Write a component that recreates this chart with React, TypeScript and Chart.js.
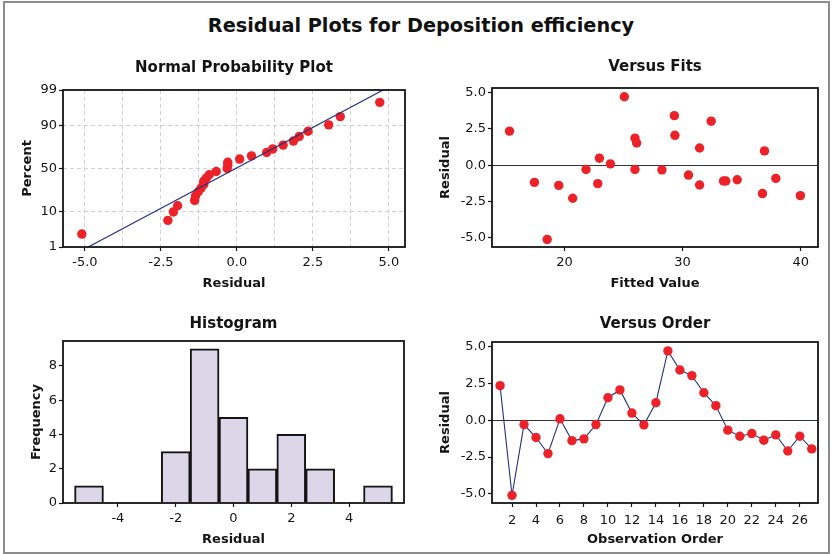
import React, { useEffect, useRef } from "react";
import { Chart, registerables } from "chart.js";

Chart.register(...registerables);
Chart.defaults.font.family = "'DejaVu Sans', Verdana, sans-serif";
Chart.defaults.color = "#111";

// ---------- data ----------
const observationOrder = [1, 2, 3, 4, 5, 6, 7, 8, 9, 10, 11, 12, 13, 14, 15, 16, 17, 18, 19, 20, 21, 22, 23, 24, 25, 26, 27];
const residuals = [2.34, -5.1, -0.3, -1.18, -2.27, 0.09, -1.39, -1.27, -0.3, 1.52, 2.05, 0.48, -0.32, 1.18, 4.7, 3.4, 3.02, 1.86, 0.98, -0.68, -1.09, -0.91, -1.36, -1.0, -2.09, -1.09, -1.95];
const fittedValues = [15.35, 18.54, 21.83, 17.46, 20.7, 23.89, 19.52, 22.82, 25.97, 26.11, 29.35, 22.96, 28.25, 31.44, 25.07, 29.3, 32.42, 25.97, 36.93, 30.5, 33.46, 37.89, 31.44, 34.62, 39.97, 33.66, 36.76];
// percent (plotting position) of each sorted residual in the normal probability plot
const normalPercent = [2.6, 6.2, 9.9, 13.5, 17.2, 20.8, 24.5, 28.1, 31.8, 35.4, 39.1, 42.7, 46.4, 50.0, 53.7, 57.3, 61.0, 64.6, 68.3, 71.9, 75.6, 79.2, 82.9, 86.5, 90.2, 93.8, 97.5];
const fitLineResidual = [-4.89, 4.81];
const fitLinePercent = [1, 99];
const histBinCenters = [-5, -4, -3, -2, -1, 0, 1, 2, 3, 4, 5];
const histCounts = [1, 0, 0, 3, 9, 5, 2, 4, 2, 0, 1];

// tick values
const probTicks = [1, 10, 50, 90, 99];
const normalXTicks = [-5, -3.75, -2.5, -1.25, 0, 1.25, 2.5, 3.75, 5];
const residualTicks = [-5, -2.5, 0, 2.5, 5];
const fitTicks = [20, 30, 40];
const orderTicks = [2, 4, 6, 8, 10, 12, 14, 16, 18, 20, 22, 24, 26];
const histXTicks = [-4, -2, 0, 2, 4];
const histYTicks = [0, 2, 4, 6, 8];

// ---------- helpers ----------
function probit(p: number): number {
  const a = [-3.969683028665376e1, 2.209460984245205e2, -2.759285104469687e2, 1.38357751867269e2, -3.066479806614716e1, 2.506628277459239];
  const b = [-5.447609879822406e1, 1.615858368580409e2, -1.556989798598866e2, 6.680131188771972e1, -1.328068155288572e1];
  const c = [-7.784894002430293e-3, -3.223964580411365e-1, -2.400758277161838, -2.549732539343734, 4.374664141464968, 2.938163982698783];
  const d = [7.784695709041462e-3, 3.224671290700398e-1, 2.445134137142996, 3.754408661907416];
  const pl = 0.02425;
  if (p < pl) {
    const q = Math.sqrt(-2 * Math.log(p));
    return (((((c[0] * q + c[1]) * q + c[2]) * q + c[3]) * q + c[4]) * q + c[5]) / ((((d[0] * q + d[1]) * q + d[2]) * q + d[3]) * q + 1);
  }
  if (p <= 1 - pl) {
    const q = p - 0.5;
    const r = q * q;
    return ((((((a[0] * r + a[1]) * r + a[2]) * r + a[3]) * r + a[4]) * r + a[5]) * q) / (((((b[0] * r + b[1]) * r + b[2]) * r + b[3]) * r + b[4]) * r + 1);
  }
  const q = Math.sqrt(-2 * Math.log(1 - p));
  return -(((((c[0] * q + c[1]) * q + c[2]) * q + c[3]) * q + c[4]) * q + c[5]) / ((((d[0] * q + d[1]) * q + d[2]) * q + d[3]) * q + 1);
}

const RED = "#ec2228";
const NAVY = "#27317f";
const INK = "#141414";
const POINT_R = 4.7;

const framePlugin = {
  id: "frame",
  afterDatasetsDraw(chart: any) {
    const { ctx, chartArea: a } = chart;
    ctx.save();
    ctx.strokeStyle = INK;
    ctx.lineWidth = 1.8;
    ctx.strokeRect(a.left, a.top, a.right - a.left, a.bottom - a.top);
    ctx.restore();
  },
};

interface AxisSpec {
  min: number;
  max: number;
  ticks: number[];
  label: (v: number) => string;
  title: string;
  titlePad: any;
  size: number;
  tickPad: number;
  gridColor?: (v: number) => string;
  dash?: number[];
  tickColor?: (v: number) => string;
}

function makeScale(s: AxisSpec, horizontal: boolean) {
  return {
    type: "linear",
    min: s.min,
    max: s.max,
    offset: false,
    afterBuildTicks: (scale: any) => {
      scale.ticks = s.ticks.map((v) => ({ value: v }));
    },
    afterFit: (scale: any) => {
      if (horizontal) scale.height = s.size;
      else scale.width = s.size;
    },
    ticks: {
      autoSkip: false,
      maxRotation: 0,
      minRotation: 0,
      padding: s.tickPad,
      color: INK,
      font: { size: 13 },
      callback: (v: any) => s.label(Number(v)),
    },
    grid: {
      display: true,
      drawOnChartArea: !!s.gridColor,
      drawTicks: true,
      tickLength: 4,
      tickWidth: 1.2,
      lineWidth: 1,
      offset: false,
      color: (ctx: any) => (s.gridColor ? s.gridColor(ctx.tick ? ctx.tick.value : NaN) : "rgba(0,0,0,0)"),
      tickColor: (ctx: any) => (s.tickColor ? s.tickColor(ctx.tick ? ctx.tick.value : NaN) : INK),
    },
    border: { display: false, dash: s.dash || [] },
    title: {
      display: true,
      text: s.title,
      color: INK,
      font: { size: 13, weight: "bold" },
      padding: s.titlePad,
    },
  };
}

function baseOptions(title: string, titlePad: any, rightPad: number, x: any, y: any) {
  return {
    responsive: false,
    animation: false,
    devicePixelRatio: 1,
    layout: { padding: { left: 0, right: rightPad, top: 0, bottom: 0 } },
    plugins: {
      legend: { display: false },
      tooltip: { enabled: false },
      title: {
        display: true,
        text: title,
        fullSize: false,
        color: INK,
        font: { size: 15, weight: "bold" },
        padding: titlePad,
      },
    },
    scales: { x, y },
  };
}

const isMultiple = (v: number, step: number) => Math.abs(v / step - Math.round(v / step)) < 1e-9;
const fmt1 = (v: number) => v.toFixed(1);

// ---------- chart configs ----------
function normalConfig() {
  const sorted = [...residuals].sort((p, q) => p - q);
  const pts = sorted.map((r, i) => ({ x: r, y: probit(normalPercent[i] / 100) }));
  const line = fitLineResidual.map((r, i) => ({ x: r, y: probit(fitLinePercent[i] / 100) }));
  const x = makeScale(
    {
      min: -5.72,
      max: 5.53,
      ticks: normalXTicks,
      label: (v) => (isMultiple(v, 2.5) ? fmt1(v) : ""),
      title: "Residual",
      titlePad: { top: 0, bottom: 9 },
      size: 53,
      tickPad: 4,
      gridColor: () => "#d0d0da",
      dash: [4, 3],
      tickColor: (v) => (isMultiple(v, 2.5) ? INK : "rgba(0,0,0,0)"),
    },
    true
  );
  const y = makeScale(
    {
      min: probit(0.01),
      max: probit(0.99),
      ticks: probTicks.map((p) => probit(p / 100)),
      label: (v) => {
        const p = probTicks.find((t) => Math.abs(probit(t / 100) - v) < 1e-6);
        return p === undefined ? "" : String(p);
      },
      title: "Percent",
      titlePad: { top: 20, bottom: 0 },
      size: 63,
      tickPad: 2,
      gridColor: () => "#d0d0da",
      dash: [4, 3],
    },
    false
  );
  return {
    type: "scatter",
    data: {
      datasets: [
        { type: "line", data: line, borderColor: NAVY, borderWidth: 1.2, pointRadius: 0, fill: false },
        { data: pts, backgroundColor: RED, borderWidth: 0, pointRadius: POINT_R },
      ],
    },
    options: baseOptions("Normal Probability Plot", { top: 9, bottom: 13 }, 11, x, y),
    plugins: [framePlugin],
  };
}

function residualY(size: number, titleTop: number) {
  return makeScale(
    {
      min: -5.62,
      max: 5.3,
      ticks: residualTicks,
      label: fmt1,
      title: "Residual",
      titlePad: { top: titleTop, bottom: 0 },
      size,
      tickPad: 2,
      gridColor: (v) => (v === 0 ? "#333333" : "rgba(0,0,0,0)"),
    },
    false
  );
}

function fitsConfig() {
  const x = makeScale(
    {
      min: 13.87,
      max: 41.46,
      ticks: fitTicks,
      label: (v) => String(v),
      title: "Fitted Value",
      titlePad: { top: 0, bottom: 9 },
      size: 53,
      tickPad: 4,
    },
    true
  );
  const pts = fittedValues.map((f, i) => ({ x: f, y: residuals[i] }));
  return {
    type: "scatter",
    data: { datasets: [{ data: pts, backgroundColor: RED, borderWidth: 0, pointRadius: POINT_R }] },
    options: baseOptions("Versus Fits", { top: 8, bottom: 12 }, 14, x, residualY(76, 22)),
    plugins: [framePlugin],
  };
}

function histConfig() {
  const x = makeScale(
    {
      min: -5.9,
      max: 5.9,
      ticks: histXTicks,
      label: (v) => String(v),
      title: "Residual",
      titlePad: { top: 0, bottom: 7 },
      size: 51,
      tickPad: 4,
    },
    true
  );
  const y = makeScale(
    {
      min: 0,
      max: 9.45,
      ticks: histYTicks,
      label: (v) => String(v),
      title: "Frequency",
      titlePad: { top: 29, bottom: 0 },
      size: 63,
      tickPad: 2,
    },
    false
  );
  const bars = histBinCenters.map((c, i) => ({ x: c, y: histCounts[i] }));
  return {
    type: "bar",
    data: {
      datasets: [
        {
          data: bars,
          backgroundColor: "#dcd6e9",
          borderColor: INK,
          borderWidth: 2,
          barPercentage: 1,
          categoryPercentage: 1,
        },
      ],
    },
    options: baseOptions("Histogram", { top: 15, bottom: 8 }, 12, x, y),
    plugins: [framePlugin],
  };
}

function orderConfig() {
  const x = makeScale(
    {
      min: 0.33,
      max: 27.52,
      ticks: orderTicks,
      label: (v) => String(v),
      title: "Observation Order",
      titlePad: { top: 0, bottom: 7 },
      size: 51,
      tickPad: 6,
    },
    true
  );
  const pts = observationOrder.map((o, i) => ({ x: o, y: residuals[i] }));
  return {
    type: "scatter",
    data: {
      datasets: [
        {
          data: pts,
          showLine: true,
          borderColor: NAVY,
          borderWidth: 1.1,
          backgroundColor: RED,
          pointBackgroundColor: RED,
          pointBorderWidth: 0,
          pointRadius: POINT_R,
          tension: 0,
        },
      ],
    },
    options: baseOptions("Versus Order", { top: 15, bottom: 9 }, 14, x, residualY(76, 22)),
    plugins: [framePlugin],
  };
}

// ---------- components ----------
function Panel(props: { left: number; top: number; width: number; height: number; build: () => any }) {
  const ref = useRef<HTMLCanvasElement | null>(null);
  useEffect(() => {
    if (!ref.current) return;
    const chart = new Chart(ref.current, props.build());
    return () => chart.destroy();
  }, []);
  return (
    <canvas
      ref={ref}
      width={props.width}
      height={props.height}
      style={{ position: "absolute", left: props.left, top: props.top, width: props.width, height: props.height }}
    />
  );
}

export default function App() {
  return (
    <div style={{ position: "absolute", left: 0, top: 0, width: 832, height: 554, background: "#fff", overflow: "hidden" }}>
      <div
        style={{
          position: "absolute",
          left: 3,
          top: 1,
          width: 827,
          height: 553,
          border: "2px solid #8c8c8c",
          boxSizing: "border-box",
        }}
      />
      <div
        style={{
          position: "absolute",
          left: 10,
          top: 12,
          width: 822,
          height: 28,
          lineHeight: "28px",
          textAlign: "center",
          fontFamily: "'DejaVu Sans', Verdana, sans-serif",
          fontWeight: "bold",
          fontSize: 19.3,
          color: "#111",
        }}
      >
        Residual Plots for Deposition efficiency
      </div>
      <Panel left={0} top={50} width={416} height={250} build={normalConfig} />
      <Panel left={416} top={50} width={416} height={250} build={fitsConfig} />
      <Panel left={0} top={300} width={416} height={254} build={histConfig} />
      <Panel left={416} top={300} width={416} height={254} build={orderConfig} />
    </div>
  );
}
